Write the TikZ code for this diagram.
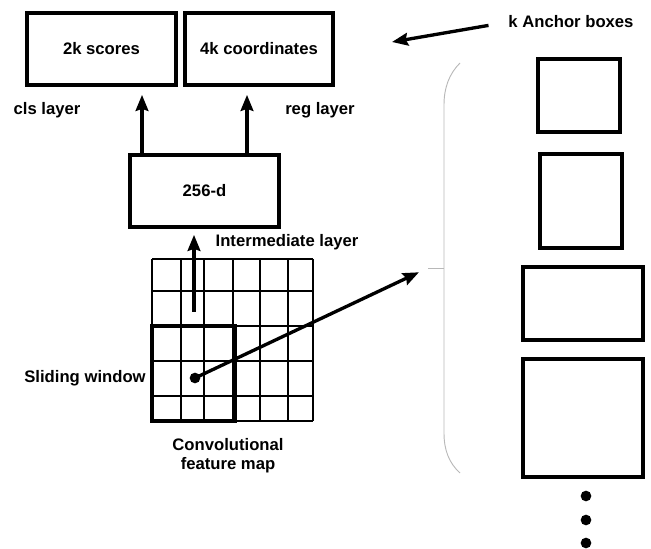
\documentclass[tikz,border=0pt]{standalone}
\usepackage{fontspec}
\setmainfont{Liberation Sans}
\usetikzlibrary{arrows.meta}
\begin{document}
\begin{tikzpicture}[x=0.75pt,y=-0.75pt,
  every node/.style={font=\fontsize{12.5}{15}\selectfont\bfseries},
  box/.style={draw,line width=2.8pt,inner sep=0pt,align=center},
  label/.style={inner sep=0pt,align=center},
  anchorbox/.style={draw,line width=2.8pt,inner sep=0pt},
  arr/.style={line width=2.5pt,-{Stealth[length=12pt,width=9.5pt,inset=1.5pt]}},
  gridline/.style={line width=1.1pt},
  bracket/.style={draw=black!28,line width=0.7pt}]
\useasboundingbox (0,0) rectangle (651,549);

% output layers
\node[box,minimum width=111.75pt,minimum height=54pt] (scores) at (101.5,49) {2k scores};
\node[box,minimum width=111pt,minimum height=54pt] (coords) at (259,49) {4k coordinates};
\node[label] (cls) at (47,110) {cls layer};
\node[label] (reg) at (320,110) {reg layer};

% intermediate layer
\node[box,minimum width=111.75pt,minimum height=54pt] (feat) at (204.5,191) {256-d};
\node[label] (inter) at (287,242) {Intermediate layer};

\coordinate (clsx) at (142,0);
\coordinate (regx) at (247,0);
\draw[arr,shorten >=6pt] (clsx |- feat.north) -- (clsx |- scores.south);
\draw[arr,shorten >=6pt] (regx |- feat.north) -- (regx |- coords.south);

% convolutional feature map
\foreach \x in {152,181,204,233,260,288,313}
  \draw[gridline] (\x,259) -- (\x,421);
\foreach \y in {259,291,326,361,396,421}
  \draw[gridline] (152,\y) -- (313,\y);
\draw[line width=2.8pt] (152,326) rectangle (235,421);
\node[label] (slide) at (85,378) {Sliding window};
\node[label] (fmap) at (228,456) {Convolutional\\[-1pt]feature map};

\coordinate (gridtop) at (194,312);
\draw[arr,shorten >=4.5pt] (gridtop) -- (gridtop |- feat.south);

\fill (195,378) circle (4pt) coordinate (centre);
\coordinate (tick) at (428,268);
\draw[arr,shorten >=7.5pt] (centre) -- (tick);

% bracket around the anchors
\draw[bracket] (460,63) .. controls (449,74) and (444,88) .. (444,105)
  -- (444,433) .. controls (444,450) and (449,463) .. (460,473);
\draw[bracket] (444,268) -- (tick);

% anchor boxes
\node[label] (kanchor) at (571,22) {k Anchor boxes};
\coordinate (topend) at (392,42);
\draw[arr,shorten <=15pt] (kanchor.west) -- (topend);

\node[anchorbox,minimum width=61.5pt,minimum height=54.75pt] (a1) at (579,95.5) {};
\node[anchorbox,minimum width=61.5pt,minimum height=70.5pt] (a2) at (581,201) {};
\node[anchorbox,minimum width=90pt,minimum height=54.75pt] (a3) at (583,303.5) {};
\node[anchorbox,minimum width=90pt,minimum height=88.5pt] (a4) at (583,418) {};

\foreach \y in {496,520,543}
  \fill (586,\y) circle (4pt);
\end{tikzpicture}
\end{document}
